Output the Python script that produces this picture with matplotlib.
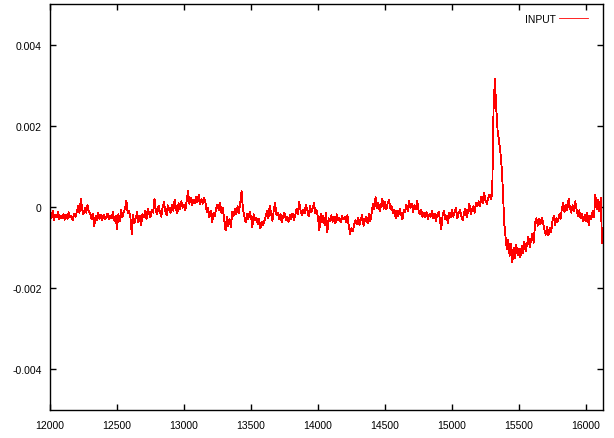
import matplotlib
matplotlib.use("Agg")
import matplotlib.pyplot as plt
import numpy as np

# valores, en unidades de 1e-4, uno cada 10 muestras desde 12000
input_e4 = [
    -1.5, -2.8, -1.0, -3.2, -2.0, -2.6, -1.2, -3.0, -2.2, -2.7,
    -1.8, -3.1, -2.0, -2.9, -1.3, -2.6, -2.2, -3.3, -1.6, -2.4,
    -1.2, 0.2, -1.5, 2.0, -0.6, -1.8, -0.3, -1.4, 0.4, -1.1,
    -1.5, -3.0, -1.8, -4.8, -2.2, -3.3, -1.4, -2.9, -2.0, -3.2,
    -1.9, -3.0, -2.4, -1.6, -3.1, -2.2, -2.8, -1.3, -3.4, -2.1,
    -5.5, -1.8, -3.6, -0.8, -2.5, -1.2, -0.4, 1.5, -1.6, -0.9,
    -2.4, -6.6, -2.0, -4.0, -2.6, -1.3, -3.8, -2.2, -4.5, -1.8,
    -2.6, -1.0, -3.0, -0.4, -1.8, -2.5, -0.6, -1.4, 2.0, -0.9,
    -1.8, 0.3, -1.2, -2.4, -0.2, 1.2, -1.0, -2.0, 0.4, -0.8,
    -1.4, 0.6, -0.9, 1.8, -0.3, -1.6, 0.9, -0.5, 1.4, -0.2,
    0.6, -0.8, 1.6, 3.9, 0.8, 2.2, 0.4, 1.8, 0.9, 2.6,
    1.2, 2.9, 0.6, 1.9, 0.8, 2.2, 1.0, -1.2, -0.2, -2.6,
    -1.0, -3.8, -1.4, -2.2, -0.4, 0.6, -0.8, 1.0, -1.6, -0.2,
    -3.2, -5.8, -2.4, -4.6, -3.0, -5.0, -1.2, -2.2, -0.4, -1.8,
    0.2, -1.4, 1.0, 3.9, -0.6, -2.2, -3.8, -1.6, -3.0, -1.2,
    -2.4, -4.9, -1.8, -3.3, -2.6, -4.2, -3.0, -5.2, -3.6, -4.4,
    -3.4, -2.2, -1.0, -2.8, 0.4, -1.6, -3.4, -0.8, 1.0, -2.0,
    -1.4, -3.0, -1.8, -3.8, -2.2, -1.4, -3.2, -2.4, -3.6, -2.0,
    -3.0, -1.6, -3.2, -2.0, -0.4, -1.8, 1.2, -0.8, -2.0, -0.6,
    -1.6, 0.6, -0.8, -2.2, 0.2, -1.2, -0.4, 1.0, -1.6, -0.8,
    -2.6, -5.8, -1.6, -3.6, -2.2, -4.4, -1.4, -6.2, -2.8, -3.4,
    -2.0, -3.6, -2.4, -4.0, -1.8, -3.2, -2.6, -3.8, -2.2, -3.0,
    -2.4, -3.8, -2.0, -4.8, -6.6, -5.2, -6.0, -4.4, -3.2, -4.2,
    -2.6, -4.4, -3.0, -2.0, -4.6, -3.2, -2.4, -4.0, -1.8, -3.4,
    -1.6, 0.8, -0.6, 2.4, -0.2, 1.0, -1.0, 0.4, 2.0, -0.4,
    1.2, -0.6, 0.9, 1.8, -0.4, 0.2, -1.6, -0.6, -2.8, -1.0,
    -2.2, -0.4, -1.8, -3.0, -0.8, -1.2, 0.6, -1.0, 1.4, -0.2,
    0.8, -1.2, 0.4, -0.6, 1.6, -0.8, -1.8, -0.6, -2.4, -1.4,
    -2.6, -1.2, -3.0, -1.8, -2.4, -1.0, -2.8, -1.6, -3.4, -2.0,
    -1.2, -3.2, -5.4, -2.0, -1.0, -3.0, -2.2, -4.0, -1.4, -2.6,
    -0.6, -2.4, -1.2, -0.2, -2.8, -1.6, -0.8, -2.2, -3.2, -1.4,
    -0.4, -2.6, -1.0, 0.8, -1.8, -0.6, 0.2, -1.4, 1.0, 0.2,
    1.4, 0.2, 2.6, 1.0, 3.4, 1.6, 0.8, 2.2, 3.0, 2.0,
    3.0, 24.0, 31.6, 24.5, 19.0, 16.5, 14.0, 10.0, 4.0, -4.0,
    -7.5, -10.5, -8.0, -12.0, -9.0, -13.7, -10.0, -12.6, -9.4, -11.8,
    -10.2, -12.4, -9.6, -11.4, -8.6, -10.8, -9.2, -7.4, -9.8, -8.2,
    -6.6, -8.8, -4.0, -2.8, -4.6, -3.0, -4.2, -2.6, -3.8, -5.6,
    -6.8, -4.8, -7.0, -5.2, -6.2, -3.4, -2.2, -4.4, -2.8, -3.6,
    -1.8, -3.0, -0.4, 1.0, -1.2, 0.6, -0.8, 2.0, -0.2, -1.4,
    0.4, -1.0, 1.4, -0.6, -2.2, -0.8, -2.8, -1.6, -3.6, -2.0,
    -3.4, -1.4, -4.4, -2.2, -3.0, -1.0, -2.6, 3.0, -0.6, 1.8,
    -1.0, 2.2, -9.0,
]
x_start = 12000
x_step = 10
x_ticks = [12000, 12500, 13000, 13500, 14000, 14500, 15000, 15500, 16000]
y_ticks = [-0.004, -0.002, 0, 0.002, 0.004]
y_labels = ["-0.004", "-0.002", "0", "0.002", "0.004"]

y = np.array(input_e4) * 1e-4
x = x_start + x_step * np.arange(len(y))

plt.rcParams["font.family"] = ["Liberation Sans", "DejaVu Sans"]
plt.rcParams["font.size"] = 7.5

fig = plt.figure(figsize=(6.14, 4.39), dpi=100)
ax = fig.add_axes([50 / 614, 28 / 439, 553 / 614, 406 / 439])

ax.plot(x, y, c="#ff0000", lw=0.6, antialiased=False, label="INPUT")

ax.set_xlim(12000, 16127)
ax.set_ylim(-0.005, 0.005)
ax.set_xticks(x_ticks)
ax.set_xticklabels([str(t) for t in x_ticks])
ax.set_yticks(y_ticks)
ax.set_yticklabels(y_labels)
ax.tick_params(axis="x", direction="in", length=4, width=1, top=True, pad=7)
ax.tick_params(axis="y", direction="in", length=4, width=1, right=True, pad=6)
for s in ax.spines.values():
    s.set_linewidth(1)

ax.legend(loc="upper right", bbox_to_anchor=(588 / 614, 424 / 439),
          bbox_transform=fig.transFigure, frameon=False, markerfirst=False,
          handlelength=2.8, borderaxespad=0, borderpad=0, handletextpad=0.3,
          fontsize=7.5)

fig.savefig("out.png", dpi=100)
